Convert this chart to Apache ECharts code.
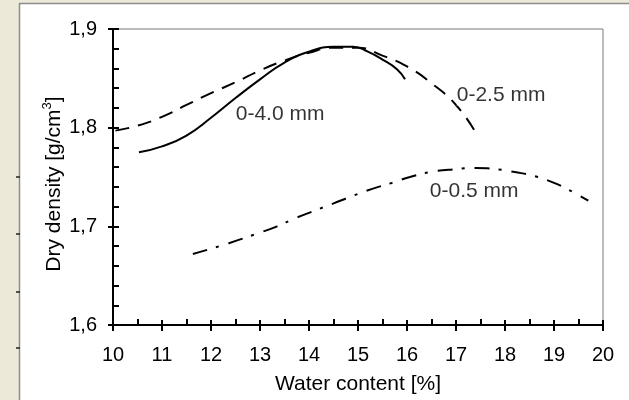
<!DOCTYPE html>
<html>
<head>
<meta charset="utf-8">
<script src="https://cdn.jsdelivr.net/npm/echarts@6/dist/echarts.min.js"></script>
<style>
html,body{margin:0;padding:0;background:#ECE9D8;}
#c{width:629px;height:400px;}
</style>
</head>
<body>
<div id="c"></div>
<script>
// ---- data ----
var xTicks = [10, 11, 12, 13, 14, 15, 16, 17, 18, 19, 20];
var yTicks = ['1,6', '1,7', '1,8', '1,9'];
var seriesNames = ['0-4.0 mm', '0-2.5 mm', '0-0.5 mm'];
var curve40 = [[10.53,1.775],[11.0,1.781],[11.5,1.792],[12.0,1.810],[12.5,1.830],[13.0,1.849],[13.5,1.866],[14.0,1.877],[14.5,1.882],[14.9,1.882],[15.2,1.877],[15.5,1.869],[15.8,1.859],[15.96,1.849]];
var curve25 = [[10.05,1.797],[10.5,1.802],[11.0,1.811],[11.5,1.823],[12.0,1.835],[12.5,1.846],[13.0,1.858],[13.5,1.868],[14.0,1.876],[14.5,1.881],[15.0,1.881],[15.5,1.873],[16.0,1.862],[16.5,1.845],[17.0,1.823],[17.39,1.796]];
var curve05 = [[11.63,1.672],[12.18,1.680],[12.55,1.686],[12.96,1.693],[13.35,1.700],[13.71,1.708],[14.12,1.716],[14.49,1.723],[14.90,1.731],[15.29,1.738],[15.69,1.744],[16.06,1.750],[16.47,1.755],[17.0,1.758],[17.4,1.759],[17.8,1.758],[18.2,1.755],[18.6,1.751],[18.95,1.745],[19.3,1.737],[19.7,1.726]];
var labelPos = [[13.41,1.814],[17.92,1.833],[17.37,1.736]];
var xTitle = 'Water content [%]';
var yTitle = 'Dry density [g/cm';

var chart = echarts.init(document.getElementById('c'), null, {renderer:'canvas'});
var FONT = 'Liberation Sans, Arial, sans-serif';
var TXT = '#000';
var fmtY = function(v){ return v.toFixed(1).replace('.', ','); };
var option = {
  backgroundColor:'transparent',
  animation:false,
  grid:{left:113, top:29, right:26, bottom:71, show:true, borderColor:'#7a7a7a', borderWidth:1, backgroundColor:'transparent'},
  graphic:[
    {type:'rect', z:-10, shape:{x:19.5, y:3.5, width:640, height:420}, style:{fill:'#ffffff', stroke:'#8c8c8c', lineWidth:1.5}},
    {type:'line', z:-5, shape:{x1:16, y1:177, x2:20, y2:177}, style:{stroke:'#222', lineWidth:1.5}},
    {type:'line', z:-5, shape:{x1:16, y1:234, x2:20, y2:234}, style:{stroke:'#222', lineWidth:1.5}},
    {type:'line', z:-5, shape:{x1:16, y1:292, x2:20, y2:292}, style:{stroke:'#222', lineWidth:1.5}},
    {type:'line', z:-5, shape:{x1:16, y1:348, x2:20, y2:348}, style:{stroke:'#222', lineWidth:1.5}},
    {type:'text', x:53, y:184, rotation:Math.PI/2, z:5,
      style:{text:'{m|' + yTitle + '}{s|3}{m|]}', align:'center', verticalAlign:'middle',
        rich:{m:{fontFamily:FONT, fontSize:21, fill:TXT, lineHeight:24, verticalAlign:'bottom'},
              s:{fontFamily:FONT, fontSize:13, fill:TXT, lineHeight:24, verticalAlign:'top', padding:[0,0,8,0]}}}}
  ],
  xAxis:[
    {type:'value', min:10, max:20, interval:1, position:'bottom',
     name:xTitle, nameLocation:'middle', nameGap:49,
     nameTextStyle:{fontFamily:FONT, fontSize:21, color:TXT},
     axisLine:{show:true, onZero:false, lineStyle:{color:'#000', width:2}},
     axisTick:{show:true, inside:false, length:6, lineStyle:{color:'#000', width:2}},
     minorTick:{show:false},
     splitLine:{show:false},
     axisLabel:{show:true, margin:20, fontFamily:FONT, fontSize:20, color:TXT,
       formatter:function(v){ return xTicks.indexOf(v) >= 0 ? String(v) : ''; }}},
    {type:'value', min:10, max:20, interval:1, position:'bottom',
     axisLine:{show:false, onZero:false},
     axisTick:{show:true, inside:true, length:5, lineStyle:{color:'#000', width:2}},
     minorTick:{show:true, splitNumber:2, length:6, lineStyle:{color:'#000', width:2}},
     splitLine:{show:false}, axisLabel:{show:false}}
  ],
  yAxis:[
    {type:'value', min:1.6, max:1.9, interval:0.1, position:'left',
     axisLine:{show:true, onZero:false, lineStyle:{color:'#000', width:2}},
     axisTick:{show:true, inside:false, length:5, lineStyle:{color:'#000', width:2}},
     splitLine:{show:false},
     axisLabel:{show:true, margin:16, fontFamily:FONT, fontSize:20, color:TXT,
       formatter:function(v){ var s = fmtY(v); return yTicks.indexOf(s) >= 0 ? s : ''; }}},
    {type:'value', min:1.6, max:1.9, interval:0.1, position:'left',
     axisLine:{show:false, onZero:false},
     axisTick:{show:true, inside:true, length:6, lineStyle:{color:'#000', width:2}},
     minorTick:{show:true, splitNumber:5, length:6, lineStyle:{color:'#000', width:2}},
     splitLine:{show:false}, axisLabel:{show:false}}
  ],
  series:[
    {name:seriesNames[0], type:'line', data:curve40, smooth:0.5, showSymbol:false, symbol:'none',
     lineStyle:{color:'#000', width:2, type:'solid'}, z:3},
    {name:seriesNames[1], type:'line', data:curve25, smooth:0.5, showSymbol:false, symbol:'none',
     lineStyle:{color:'#000', width:2, type:[14,9]}, z:3},
    {name:seriesNames[2], type:'line', data:curve05, smooth:0.5, showSymbol:false, symbol:'none',
     lineStyle:{color:'#000', width:2, type:[15,9,3,10]}, z:3},
    {type:'scatter', symbolSize:0, silent:true, z:4,
     data:labelPos.map(function(p,i){ return {value:p, name:seriesNames[i]}; }),
     label:{show:true, position:'inside', formatter:function(p){ return p.name; },
       fontFamily:FONT, fontSize:21, color:TXT, backgroundColor:'#fff'}}
  ]
};
chart.setOption(option);
</script>
</body>
</html>
